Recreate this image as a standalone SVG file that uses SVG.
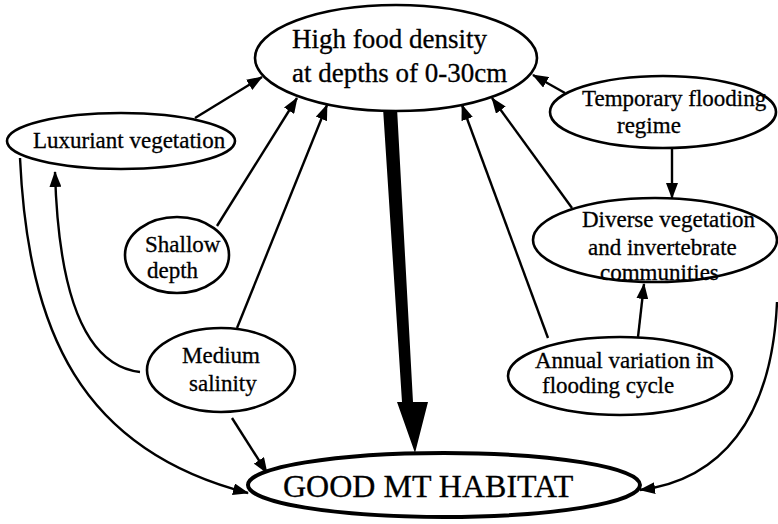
<svg xmlns="http://www.w3.org/2000/svg" width="778" height="524" viewBox="0 0 778 524">
<style>
.node ellipse{fill:#fff;stroke:#000;stroke-width:2.6}
.node text{font-family:"Liberation Serif","Times New Roman",serif;font-size:23px;fill:#000;stroke:#000;stroke-width:0.3}
.conn path,.conn line{fill:none;stroke:#000;stroke-width:2.4}
</style>
<defs>
<marker id="ah" markerWidth="16" markerHeight="12" refX="15" refY="6" orient="auto" markerUnits="userSpaceOnUse">
<path d="M0,0 L16,6 L0,12 z" fill="#000"/>
</marker>
</defs>
<rect width="778" height="524" fill="#fff"/>
<g id="connectors" class="conn">
<line x1="195" y1="118" x2="262" y2="77" marker-end="url(#ah)"/>
<line x1="217" y1="226" x2="297" y2="98" marker-end="url(#ah)"/>
<line x1="237" y1="328" x2="327" y2="105" marker-end="url(#ah)"/>
<line x1="548" y1="338" x2="462" y2="105" marker-end="url(#ah)"/>
<line x1="572" y1="208" x2="492" y2="98" marker-end="url(#ah)"/>
<line x1="565" y1="93" x2="533" y2="75" marker-end="url(#ah)"/>
<line x1="672" y1="148" x2="672" y2="198" marker-end="url(#ah)"/>
<line x1="638" y1="337" x2="644" y2="284" marker-end="url(#ah)"/>
<line x1="232" y1="418" x2="267" y2="473" marker-end="url(#ah)"/>
<path d="M20,158 C28,330 80,450 248,493" marker-end="url(#ah)"/>
<path d="M140,372 C80,365 58,280 55,172" marker-end="url(#ah)"/>
<path d="M777,302 C772,420 720,480 640,490" marker-end="url(#ah)"/>
<polygon points="383,108 397,108 413,402 428,402 415,453 397,402 402,402" fill="#000" stroke="none"/>
</g>
<g id="high-food" class="node">
<ellipse cx="396" cy="58" rx="141" ry="53"/>
<text x="292" y="48" style="font-size:27px">High food density</text>
<text x="292" y="82" style="font-size:27px">at depths of 0-30cm</text>
</g>
<g id="luxuriant" class="node">
<ellipse cx="121" cy="141" rx="114" ry="28"/>
<text x="33" y="148">Luxuriant vegetation</text>
</g>
<g id="shallow" class="node">
<ellipse cx="177" cy="255" rx="52" ry="38"/>
<text x="145" y="252">Shallow</text>
<text x="147" y="278">depth</text>
</g>
<g id="medium" class="node">
<ellipse cx="221" cy="370" rx="74" ry="42"/>
<text x="182" y="363">Medium</text>
<text x="189" y="391">salinity</text>
</g>
<g id="temporary" class="node">
<ellipse cx="663" cy="112" rx="113" ry="36"/>
<text x="582" y="106">Temporary flooding</text>
<text x="617" y="133">regime</text>
</g>
<g id="diverse" class="node">
<ellipse cx="655" cy="240" rx="122" ry="42"/>
<text x="582" y="227">Diverse vegetation</text>
<text x="588" y="255">and invertebrate</text>
<text x="600" y="280">communities</text>
</g>
<g id="annual" class="node">
<ellipse cx="620" cy="376" rx="112" ry="39"/>
<text x="535" y="368">Annual variation in</text>
<text x="542" y="393">flooding cycle</text>
</g>
<g id="good" class="node">
<ellipse cx="444" cy="485" rx="196" ry="32" style="stroke-width:4"/>
<text x="283" y="497" style="font-size:32px">GOOD MT HABITAT</text>
</g>
</svg>
